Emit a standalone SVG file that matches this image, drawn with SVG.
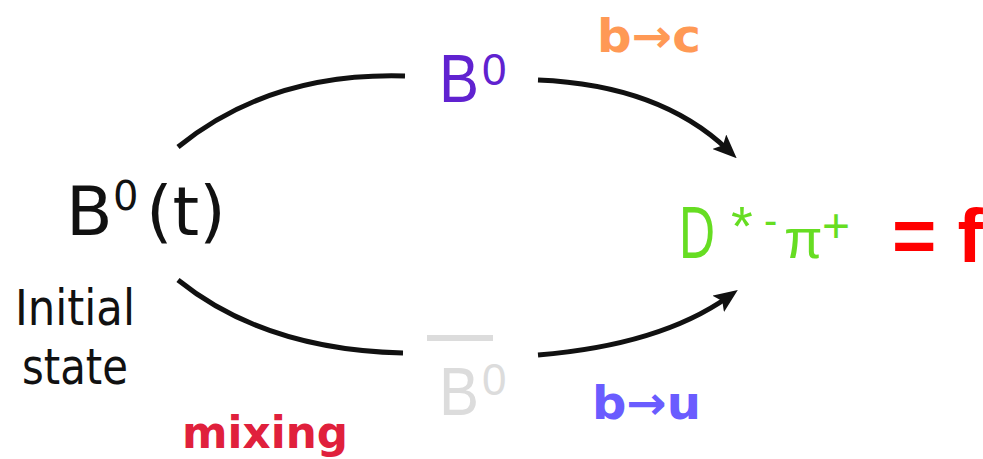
<svg xmlns="http://www.w3.org/2000/svg" width="983" height="459" viewBox="0 0 983 459">
<style>
.edge{fill:none;stroke:#111;stroke-width:5;stroke-linecap:butt}
.sans{font-family:"DejaVu Sans","Liberation Sans",sans-serif}
.ar{font-family:"Liberation Sans",Arial,sans-serif}
.bold{font-weight:bold}
</style>
<defs>
<marker id="ah" markerUnits="userSpaceOnUse" viewBox="0 0 24 20" markerWidth="24" markerHeight="20" refX="12" refY="10" orient="auto">
<path d="M0,0 L24,10 L0,20 L5,10 Z" fill="#111"/>
</marker>
</defs>
<g id="connectors">
<path class="edge" d="M178,147 Q270,72 405,76"/>
<path class="edge" d="M538,80 Q660,85 728,150" marker-end="url(#ah)"/>
<path class="edge" d="M178,280 Q265,350 403,353"/>
<path class="edge" d="M538,355 Q660,345 728,297" marker-end="url(#ah)"/>
</g>
<g id="initial">
<text class="sans" x="66" y="235" font-size="68" fill="#111">B</text>
<text class="sans" x="113" y="210" font-size="40" fill="#111">0</text>
<text class="sans" x="146" y="235" font-size="68" fill="#111">(t)</text>
<text class="sans" x="15" y="325" font-size="50" fill="#111" textLength="120" lengthAdjust="spacingAndGlyphs">Initial</text>
<text class="sans" x="22" y="384" font-size="50" fill="#111" textLength="106" lengthAdjust="spacingAndGlyphs">state</text>
</g>
<g id="mixing">
<text class="sans bold" x="182" y="448" font-size="45" fill="#e0203c" textLength="166" lengthAdjust="spacingAndGlyphs">mixing</text>
</g>
<g id="b0">
<text class="ar" x="439" y="102" font-size="68" fill="#6022d0" textLength="40" lengthAdjust="spacingAndGlyphs">B</text>
<text class="ar" x="482" y="85" font-size="44" fill="#6022d0">0</text>
</g>
<g id="b0bar">
<rect x="427" y="335" width="66" height="6" fill="#dcdcdc"/>
<text class="ar" x="439" y="415" font-size="68" fill="#dcdcdc" textLength="40" lengthAdjust="spacingAndGlyphs">B</text>
<text class="ar" x="482" y="395" font-size="44" fill="#dcdcdc">0</text>
</g>
<g id="btoc">
<text class="sans bold" x="597" y="52" font-size="46" fill="#ff9955" textLength="104" lengthAdjust="spacingAndGlyphs">b→c</text>
</g>
<g id="btou">
<text class="sans bold" x="592" y="419" font-size="46" fill="#6a5cff" textLength="109" lengthAdjust="spacingAndGlyphs">b→u</text>
</g>
<g id="final">
<text class="ar" x="679" y="258" font-size="74" fill="#66dd22" textLength="36" lengthAdjust="spacingAndGlyphs">D</text>
<text class="ar" x="731" y="245" font-size="56" fill="#66dd22">*</text>
<text class="ar" x="764" y="234" font-size="40" fill="#66dd22">-</text>
<text class="ar" x="784" y="258" font-size="56" fill="#66dd22">π</text>
<text class="ar" x="822" y="242" font-size="48" fill="#66dd22">+</text>
</g>
<g id="equals">
<text class="ar bold" x="892" y="262" font-size="76" fill="#ff0000">= f</text>
</g>
</svg>
